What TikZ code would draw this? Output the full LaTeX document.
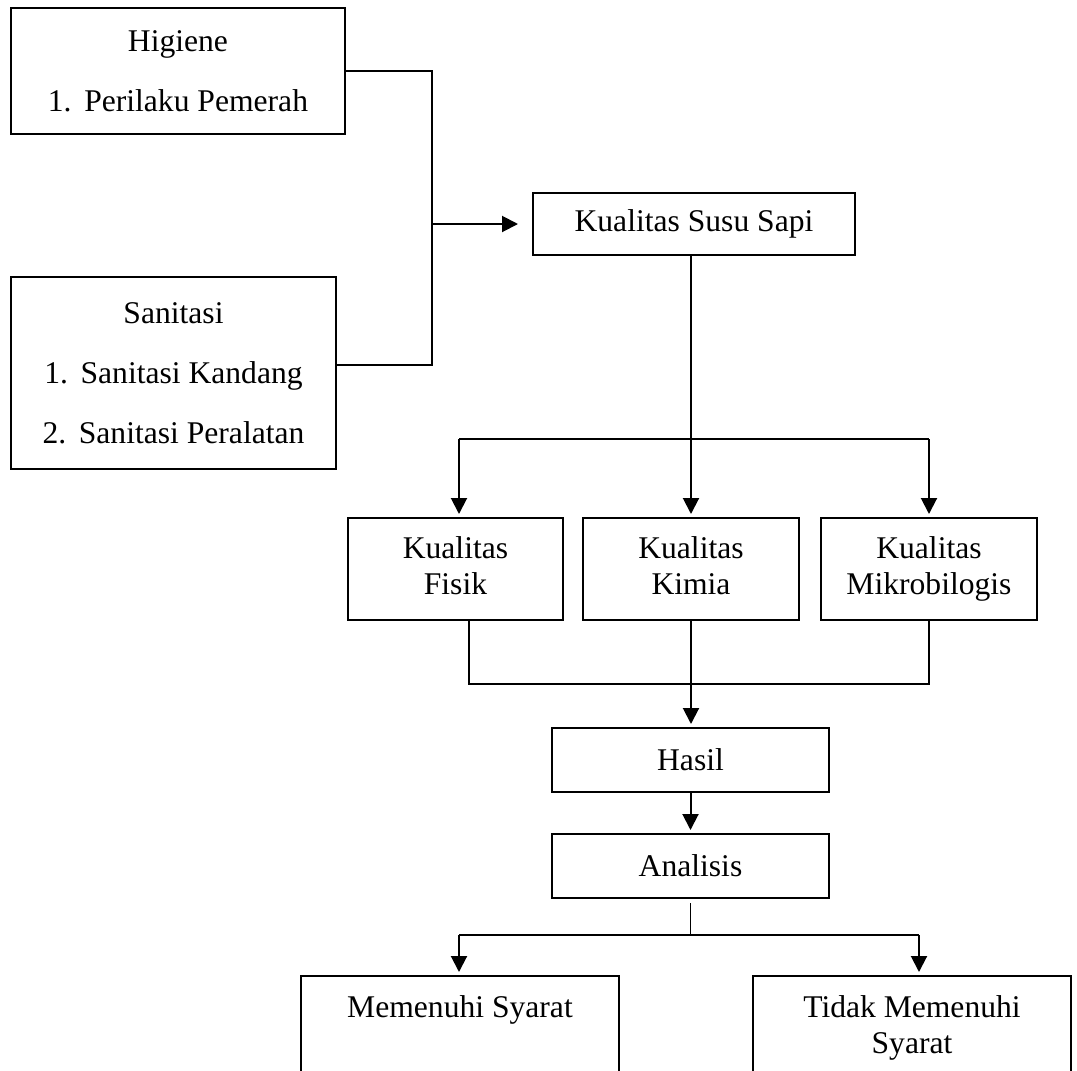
\documentclass[tikz,border=0pt]{standalone}
\usepackage{fontspec}
\setmainfont{Liberation Serif}
\usetikzlibrary{arrows.meta,calc}
\newcommand\dblfont{\fontsize{15.8pt}{30pt}\selectfont}
\newcommand\sglfont{\fontsize{15.8pt}{18pt}\selectfont}
\begin{document}
\begin{tikzpicture}[x=0.5pt,y=-0.5pt,
  box/.style={draw, line width=1pt, inner sep=0pt, align=center},
  conn/.style={line width=1pt},
  thinconn/.style={line width=0.55pt},
  arr/.style={conn, -{Triangle[width=8pt,length=8pt]}, shorten >=1.5pt}]
\useasboundingbox (0,0) rectangle (1077,1071);
\clip (0,0) rectangle (1077,1071);

% boxes
\node[box, minimum width=167pt, minimum height=63pt, font=\dblfont] (hig) at (178,71)
  {Higiene\\1.\hspace{0.4em}Perilaku Pemerah};
\node[box, minimum width=162.5pt, minimum height=96pt, font=\dblfont] (san) at (173.5,373)
  {Sanitasi\\1.\hspace{0.4em}Sanitasi Kandang\\2.\hspace{0.4em}Sanitasi Peralatan};
\node[box, minimum width=161pt, minimum height=31pt, font=\sglfont] (kss) at (694,224)
  {Kualitas Susu Sapi};
\node[box, minimum width=107.5pt, minimum height=51pt, font=\sglfont] (fis) at (455.5,569)
  {Kualitas\\Fisik\vphantom{g}};
\node[box, minimum width=108pt, minimum height=51pt, font=\sglfont] (kim) at (691,569)
  {Kualitas\\Kimia\vphantom{g}};
\node[box, minimum width=108pt, minimum height=51pt, font=\sglfont] (mik) at (929,569)
  {Kualitas\\Mikrobilogis};
\node[box, minimum width=138.5pt, minimum height=32pt, font=\sglfont] (has) at (690.5,760)
  {Hasil};
\node[box, minimum width=138.5pt, minimum height=32pt, font=\sglfont] (ana) at (690.5,866)
  {Analisis};
\node[box, minimum width=159pt, minimum height=100pt, anchor=north] (mem) at (460,975) {};
\node[box, minimum width=159pt, minimum height=100pt, anchor=north] (tdk) at (912,975) {};
\node[font=\sglfont, inner sep=0pt, anchor=north] (memtxt) at (460,995) {Memenuhi Syarat};
\node[font=\sglfont, inner sep=0pt, anchor=north, align=center] (tdktxt) at (912,995)
  {Tidak Memenuhi\\Syarat};

% connectors
\coordinate (jx) at (432,224);
\draw[conn] (hig.east) -| (jx) |- ($(san.east)+(0,-8)$);
\draw[arr, shorten >=7pt] (jx) -- (kss.west);

\coordinate (brL) at (459,439);
\coordinate (brR) at (929,439);
\draw[arr] (kss.south -| kim.north) -- (kim.north);
\draw[conn] (brL) -- (brR);
\draw[arr] (brL) -- (brL |- fis.north);
\draw[arr] (brR) -- (mik.north);

\coordinate (mgL) at (469,684);
\coordinate (mgR) at (929,684);
\draw[conn] (fis.south -| mgL) -- (mgL) -- (mgR) -- (mik.south);
\draw[arr] (kim.south) -- (kim.south |- has.north);
\draw[arr] (has.south) -- (ana.north);

\coordinate (anL) at (459,935);
\coordinate (anR) at (919,935);
\draw[thinconn, shorten <=2pt] (ana.south) -- (ana.south |- anL);
\draw[conn] (anL) -- (anR);
\draw[arr] (anL) -- (anL |- mem.north);
\draw[arr] (anR) -- (anR |- tdk.north);
\end{tikzpicture}
\end{document}
